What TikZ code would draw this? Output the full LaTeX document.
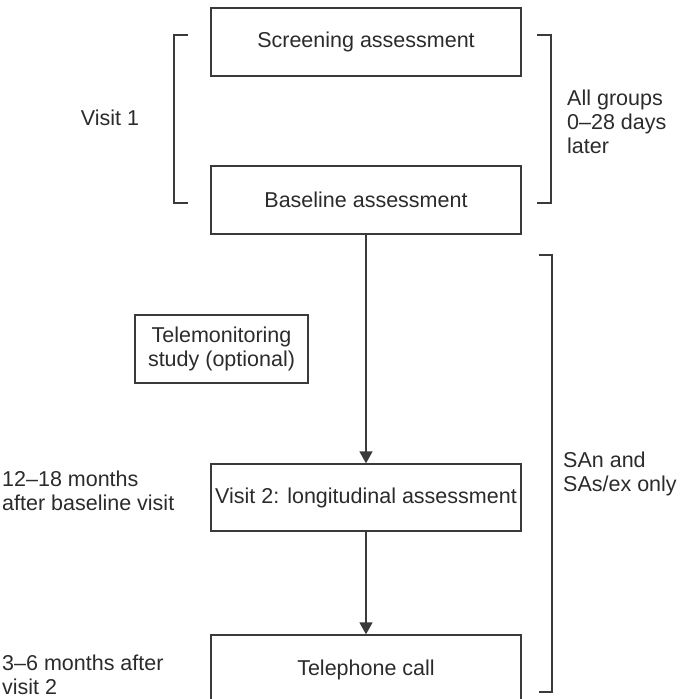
\documentclass[tikz,border=0pt]{standalone}
\usepackage{fontspec}
\setmainfont{Liberation Sans}
\usetikzlibrary{arrows.meta}
\definecolor{inkgray}{HTML}{2B2B2B}
\definecolor{linegray}{HTML}{3A3A3A}
\begin{document}
\begin{tikzpicture}[x=1pt,y=-1pt,
  every node/.style={font=\fontsize{21.5}{24}\selectfont, text=inkgray},
  flowbox/.style={draw=linegray, line width=1.4pt, rectangle, inner sep=0pt, align=center},
  flowarrow/.style={draw=linegray, line width=1.7pt, -{Triangle[width=13pt,length=12pt]}},
  bracketline/.style={draw=linegray, line width=1.3pt},
  sidelabel/.style={align=left, anchor=west, inner sep=0pt}
]
\useasboundingbox (0,0) rectangle (687,699);

% boxes
\node[flowbox, minimum width=310pt, minimum height=68pt] (screen) at (366,42) {Screening assessment};
\node[flowbox, minimum width=310pt, minimum height=68pt] (base) at (366,200) {Baseline assessment};
\node[flowbox, minimum width=173pt, minimum height=68pt] (tele) at (221.5,349) {Telemonitoring\\study (optional)};
\node[flowbox, minimum width=310pt, minimum height=67pt] (visit) at (366,497.5) {Visit 2: longitudinal assessment};
\node[flowbox, minimum width=310pt, minimum height=70pt] (phone) at (366,670) {Telephone call};

% arrows
\draw[flowarrow] (base.south) -- (visit.north);
\draw[flowarrow] (visit.south) -- (phone.north);

% brackets
\draw[bracketline] (188,35) -- (174,35) -- (174,203) -- (188,203);
\draw[bracketline] (537,35) -- (551,35) -- (551,203) -- (537,203);
\draw[bracketline] (539,255) -- (552,255) -- (552,692) -- (539,692);

% side labels
\node[anchor=center, inner sep=0pt] (v1) at (110,118) {Visit 1};
\node[sidelabel] (allg) at (567,122) {All groups\\0--28 days\\later};
\node[sidelabel] (san) at (563,474) {SAn and\\SAs/ex only};
\node[sidelabel] (m1218) at (2,491) {12--18 months\\after baseline visit};
\node[sidelabel] (m36) at (2,675) {3--6 months after\\visit 2};
\end{tikzpicture}
\end{document}
